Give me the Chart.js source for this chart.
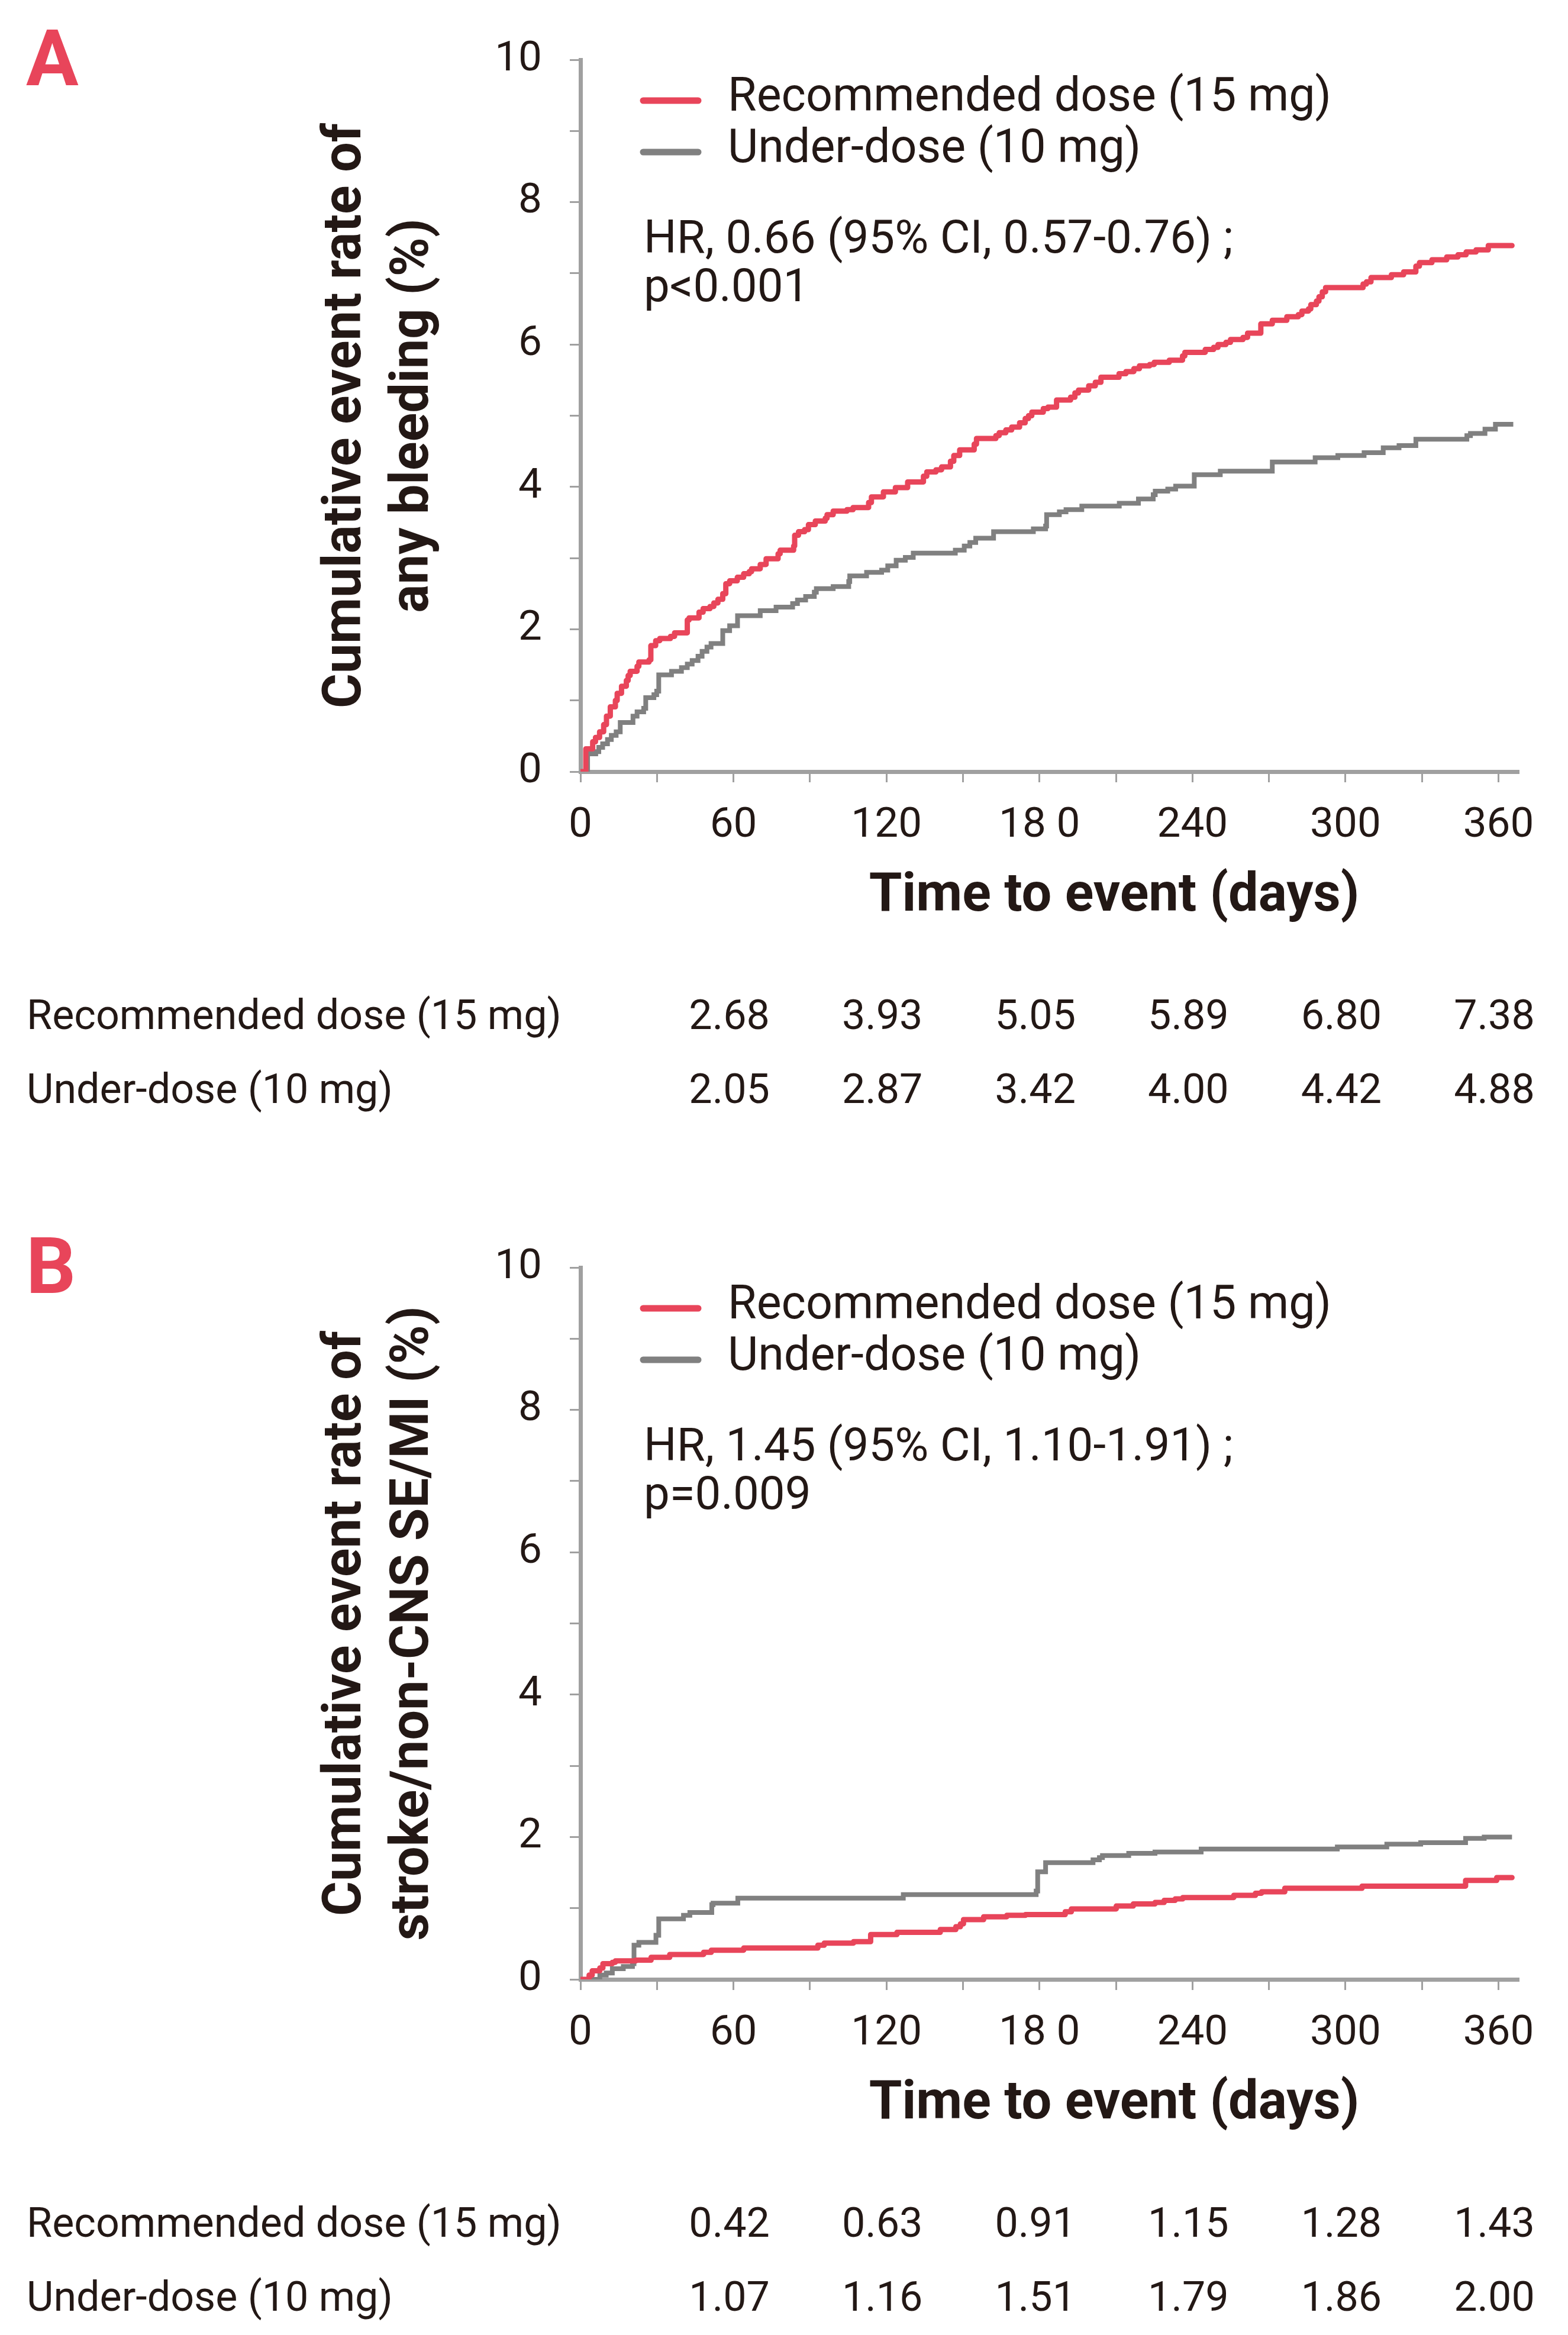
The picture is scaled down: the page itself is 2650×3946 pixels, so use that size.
<!DOCTYPE html>
<html>
<head>
<meta charset="utf-8">
<script src="https://cdn.jsdelivr.net/npm/chart.js@4.4.1/dist/chart.umd.min.js"></script>
<style>
  body { margin: 0; background: #fff; }
  canvas { position: absolute; left: 0; }
  #chartA { top: 0; }
  #chartB { top: 2041px; }
</style>
</head>
<body>
<canvas id="chartA" width="2650" height="2041"></canvas>
<canvas id="chartB" width="2650" height="1905"></canvas>
<script>
// series names
var seriesNames = ["Recommended dose (15 mg)", "Under-dose (10 mg)"];

// panel A: any bleeding, [day, cumulative %]
var aRecommended = [
  [0, 0], [2.1, 0.32], [4.8, 0.42], [5.9, 0.48], [7.5, 0.56], [9.1, 0.66], [10.2, 0.78],
  [11.7, 0.91], [13.7, 1.0], [14.4, 1.1], [16.1, 1.2], [18.0, 1.28], [18.7, 1.35], [19.5, 1.41],
  [22.2, 1.48], [22.9, 1.54], [26.9, 1.57], [27.6, 1.77], [29.5, 1.84], [31.1, 1.87], [35.3, 1.9],
  [36.9, 1.95], [41.9, 2.13], [42.6, 2.16], [46.5, 2.24], [48.1, 2.29], [50.8, 2.32], [52.3, 2.37],
  [53.9, 2.42], [55.8, 2.5], [57.0, 2.64], [58.5, 2.68], [61.5, 2.73], [64.0, 2.78], [66.2, 2.81],
  [67.1, 2.85], [70.5, 2.91], [72.8, 2.99], [77.5, 3.06], [78.3, 3.11], [83.6, 3.17], [84.0, 3.32],
  [85.5, 3.37], [87.9, 3.4], [89.4, 3.47], [92.1, 3.52], [96.0, 3.56], [96.7, 3.61], [99.1, 3.66],
  [104.5, 3.68], [106.9, 3.71], [113.0, 3.78], [114.1, 3.86], [118.8, 3.93], [123.5, 3.99],
  [128.3, 4.07], [134.5, 4.15], [135.8, 4.21], [139.4, 4.24], [141.6, 4.28], [145.1, 4.36],
  [146.4, 4.44], [148.7, 4.52], [154.4, 4.6], [155.3, 4.68], [162.9, 4.72], [164.2, 4.76],
  [166.8, 4.8], [169.1, 4.84], [172.2, 4.9], [174.4, 4.96], [175.7, 5.0], [177.0, 5.05],
  [181.5, 5.1], [183.3, 5.12], [186.7, 5.22], [192.2, 5.26], [193.9, 5.32], [195.3, 5.36],
  [199.3, 5.42], [201.9, 5.47], [204.1, 5.54], [211.2, 5.59], [213.9, 5.62], [217.0, 5.66],
  [219.2, 5.7], [223.2, 5.72], [225.0, 5.75], [230.9, 5.78], [236.1, 5.84], [237.0, 5.89],
  [245.0, 5.93], [248.3, 5.96], [250.0, 6.0], [253.1, 6.03], [254.9, 6.07], [259.8, 6.1],
  [261.6, 6.16], [266.8, 6.29], [271.3, 6.34], [277.0, 6.39], [281.5, 6.42], [282.9, 6.47],
  [285.5, 6.5], [286.4, 6.56], [288.6, 6.61], [289.6, 6.67], [290.9, 6.74], [292.2, 6.8],
  [306.9, 6.85], [308.2, 6.88], [310.0, 6.94], [318.0, 6.98], [322.8, 7.02], [327.6, 7.1],
  [329.0, 7.15], [333.9, 7.19], [339.7, 7.23], [344.1, 7.26], [347.3, 7.3], [351.2, 7.33],
  [356.0, 7.39], [365.3, 7.39]
];
var aUnder = [
  [0, 0], [2.8, 0.25], [6.0, 0.28], [7.2, 0.34], [8.7, 0.39], [10.6, 0.45], [12.1, 0.51],
  [14.0, 0.56], [15.6, 0.69], [20.6, 0.78], [22.2, 0.84], [24.8, 0.89], [25.6, 1.04], [28.8, 1.08],
  [29.9, 1.13], [30.7, 1.36], [35.7, 1.41], [39.6, 1.46], [41.9, 1.51], [43.8, 1.56], [46.1, 1.62],
  [47.7, 1.69], [49.6, 1.75], [51.2, 1.8], [55.8, 1.98], [58.5, 2.05], [61.6, 2.19], [70.5, 2.26],
  [76.7, 2.31], [83.2, 2.36], [85.1, 2.41], [88.3, 2.46], [91.7, 2.52], [92.5, 2.57], [99.1, 2.6],
  [105.2, 2.67], [105.6, 2.75], [112.2, 2.8], [118.1, 2.83], [120.5, 2.89], [123.8, 2.97],
  [127.4, 3.01], [130.5, 3.07], [147.0, 3.11], [150.5, 3.17], [152.7, 3.22], [155.0, 3.28],
  [162.0, 3.37], [177.6, 3.41], [182.4, 3.45], [182.8, 3.61], [187.8, 3.65], [190.4, 3.68],
  [196.6, 3.73], [211.3, 3.77], [218.8, 3.83], [224.6, 3.89], [225.4, 3.94], [230.3, 3.97],
  [233.4, 4.01], [240.7, 4.17], [250.9, 4.22], [271.3, 4.35], [288.1, 4.41], [297.0, 4.44],
  [307.3, 4.48], [314.8, 4.55], [321.0, 4.58], [327.6, 4.67], [347.6, 4.72], [349.0, 4.75],
  [354.7, 4.81], [358.8, 4.88], [365.8, 4.88]
];

// panel B: stroke/non-CNS SE/MI
var bRecommended = [
  [0, 0], [3.4, 0.06], [4.6, 0.12], [7.6, 0.16], [8.8, 0.22], [12.5, 0.24], [13.7, 0.26],
  [21.7, 0.27], [27.7, 0.31], [35.0, 0.35], [48.3, 0.38], [51.3, 0.41], [64.0, 0.44],
  [93.1, 0.48], [95.6, 0.51], [107.1, 0.53], [113.8, 0.63], [124.1, 0.66], [141.1, 0.7],
  [147.2, 0.74], [149.0, 0.78], [150.2, 0.84], [158.1, 0.88], [167.2, 0.9], [174.5, 0.91],
  [190.1, 0.95], [192.5, 0.99], [210.1, 1.03], [216.8, 1.06], [225.3, 1.08], [228.9, 1.11],
  [233.2, 1.13], [236.2, 1.15], [256.2, 1.18], [264.7, 1.21], [267.1, 1.23], [276.2, 1.28],
  [306.5, 1.31], [347.1, 1.39], [359.3, 1.43], [365.3, 1.43]
];
var bUnder = [
  [0, 0], [7.6, 0.06], [10.1, 0.09], [12.5, 0.15], [16.8, 0.18], [20.4, 0.22], [21.0, 0.48],
  [22.9, 0.52], [29.6, 0.62], [30.7, 0.85], [40.4, 0.9], [42.9, 0.94], [51.5, 1.05], [52.0, 1.07],
  [61.7, 1.14], [126.6, 1.19], [178.7, 1.24], [179.3, 1.51], [182.4, 1.64], [201.0, 1.68],
  [203.5, 1.71], [204.7, 1.74], [215.0, 1.77], [225.3, 1.79], [243.4, 1.83], [296.8, 1.86],
  [316.2, 1.9], [329.5, 1.92], [347.1, 1.98], [354.4, 2.0], [365.3, 2.0]
];

// rates shown under each panel
var tableDays = [60, 120, 180, 240, 300, 360];
var aRecTable = ["2.68", "3.93", "5.05", "5.89", "6.80", "7.38"];
var aUnderTable = ["2.05", "2.87", "3.42", "4.00", "4.42", "4.88"];
var bRecTable = ["0.42", "0.63", "0.91", "1.15", "1.28", "1.43"];
var bUnderTable = ["1.07", "1.16", "1.51", "1.79", "1.86", "2.00"];

// axes
var xTickValues = [0, 30, 60, 90, 120, 150, 180, 210, 240, 270, 300, 330, 360];
var xLabelDays = [0, 60, 120, 180, 240, 300, 360];
var xTickLabels = ["0", "60", "120", "18 0", "240", "300", "360"];
var yTickValues = [0, 1, 2, 3, 4, 5, 6, 7, 8, 9, 10];
var yLabelValues = [0, 2, 4, 6, 8, 10];
var yTickLabels = ["0", "2", "4", "6", "8", "10"];

var RED = "#e8455a";
var GREY = "#808080";
var AXIS = "#a0a0a0";
var INK = "#231815";
var FONT = "Roboto, 'Open Sans', sans-serif";

function toPoints(pairs) {
  return pairs.map(function (p) {
    return { x: p[0], y: p[1] };
  });
}

function annotations(letter, hrLines, tables) {
  return {
    id: "annotations" + letter,
    afterDraw: function (chart) {
      var ctx = chart.ctx;
      var xs = chart.scales.x;
      ctx.save();
      ctx.textBaseline = "alphabetic";

      // panel letter
      ctx.fillStyle = RED;
      ctx.font = "bold 132px " + FONT;
      ctx.textAlign = "left";
      ctx.fillText(letter, 44, 144);

      // legend
      var colors = [RED, GREY];
      for (var i = 0; i < seriesNames.length; i++) {
        var y = 170 + i * 87;
        ctx.strokeStyle = colors[i];
        ctx.lineWidth = 11;
        ctx.lineCap = "round";
        ctx.beginPath();
        ctx.moveTo(1087, y);
        ctx.lineTo(1180, y);
        ctx.stroke();
        ctx.fillStyle = INK;
        ctx.font = "79px " + FONT;
        ctx.fillText(seriesNames[i], 1230, y + 17);
      }

      // hazard ratio
      ctx.font = "78px " + FONT;
      ctx.fillText(hrLines[0], 1088, 427);
      ctx.fillText(hrLines[1], 1088, 509);

      // x axis title
      ctx.font = "bold 90px " + FONT;
      ctx.textAlign = "center";
      ctx.fillText("Time to event (days)", 1883, 1539);

      // rates table
      ctx.font = "70px " + FONT;
      for (var r = 0; r < tables.length; r++) {
        var base = 1739 + r * 125;
        ctx.textAlign = "left";
        ctx.fillText(seriesNames[r], 45, base);
        ctx.textAlign = "center";
        for (var c = 0; c < tableDays.length; c++) {
          ctx.fillText(tables[r][c], xs.getPixelForValue(tableDays[c]) - 7, base);
        }
      }
      ctx.restore();
    },
  };
}

function makeChart(id, letter, recData, underData, yTitle, hrLines, tables) {
  var canvas = document.getElementById(id);
  return new Chart(canvas, {
    type: "line",
    data: {
      datasets: [
        {
          label: seriesNames[0],
          data: toPoints(recData),
          borderColor: RED,
          borderWidth: 9,
          stepped: true,
          pointRadius: 0,
          borderCapStyle: "round",
          borderJoinStyle: "round",
          fill: false,
        },
        {
          label: seriesNames[1],
          data: toPoints(underData),
          borderColor: GREY,
          borderWidth: 8,
          stepped: true,
          pointRadius: 0,
          borderCapStyle: "butt",
          borderJoinStyle: "miter",
          fill: false,
        },
      ],
    },
    options: {
      responsive: false,
      animation: false,
      devicePixelRatio: 1,
      layout: { padding: { top: 101, right: 83, left: 0, bottom: 0 } },
      plugins: {
        legend: { display: false },
        tooltip: { enabled: false },
      },
      scales: {
        x: {
          type: "linear",
          min: 0,
          max: 368,
          afterBuildTicks: function (scale) {
            scale.ticks = xTickValues.map(function (v) {
              return { value: v };
            });
          },
          afterFit: function (scale) {
            scale.height = scale.chart.height - 1304;
          },
          ticks: {
            autoSkip: false,
            maxRotation: 0,
            padding: 32,
            color: INK,
            font: { size: 71, family: FONT },
            callback: function (value) {
              var i = xLabelDays.indexOf(value);
              return i >= 0 ? xTickLabels[i] : "";
            },
          },
          grid: {
            drawOnChartArea: false,
            drawTicks: true,
            tickLength: 18,
            tickWidth: 3,
            tickColor: AXIS,
            color: AXIS,
          },
          border: { display: true, color: AXIS, width: 7 },
        },
        y: {
          min: 0,
          max: 10,
          afterBuildTicks: function (scale) {
            scale.ticks = yTickValues.map(function (v) {
              return { value: v };
            });
          },
          afterFit: function (scale) {
            scale.width = 981;
          },
          ticks: {
            autoSkip: false,
            padding: 47,
            color: INK,
            font: { size: 71, family: FONT },
            callback: function (value) {
              var i = yLabelValues.indexOf(value);
              return i >= 0 ? yTickLabels[i] : "";
            },
          },
          grid: {
            drawOnChartArea: false,
            drawTicks: true,
            tickLength: 18,
            tickWidth: 3,
            tickColor: AXIS,
            color: AXIS,
          },
          border: { display: true, color: AXIS, width: 7 },
          title: {
            display: true,
            text: yTitle,
            color: INK,
            font: { size: 90, weight: "bold", family: FONT, lineHeight: 1.26 },
            padding: { top: 530, bottom: 0 },
          },
        },
      },
    },
    plugins: [annotations(letter, hrLines, tables)],
  });
}

makeChart(
  "chartA",
  "A",
  aRecommended,
  aUnder,
  ["Cumulative event rate of", "any bleeding (%)"],
  ["HR, 0.66 (95% CI, 0.57-0.76) ;", "p<0.001"],
  [aRecTable, aUnderTable]
);

makeChart(
  "chartB",
  "B",
  bRecommended,
  bUnder,
  ["Cumulative event rate of", "stroke/non-CNS SE/MI (%)"],
  ["HR, 1.45 (95% CI, 1.10-1.91) ;", "p=0.009"],
  [bRecTable, bUnderTable]
);
</script>
</body>
</html>
